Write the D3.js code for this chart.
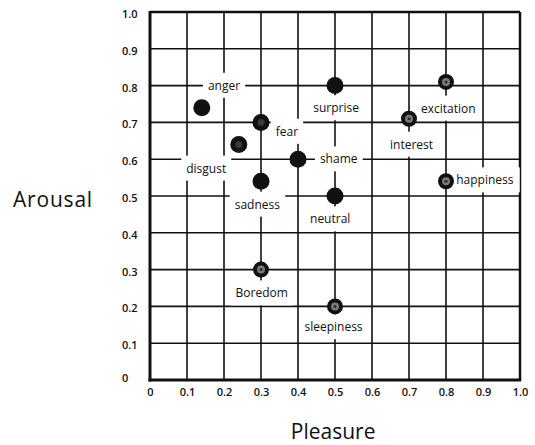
<!DOCTYPE html>
<html>
<head>
<meta charset="utf-8">
<script src="https://cdn.jsdelivr.net/npm/d3@7/dist/d3.min.js"></script>
<style>
  html, body { margin: 0; padding: 0; background: #fff; }
  svg { display: block; }
  text { font-family: "Open Sans", "Noto Sans", sans-serif; fill: #111; }
</style>
</head>
<body>
<svg id="chart" width="535" height="445"></svg>
<script>
// ---- data ----
const emotions = ["anger", "fear", "disgust", "shame", "sadness", "surprise", "neutral",
                  "excitation", "interest", "happiness", "Boredom", "sleepiness"];
const pleasure = [0.14, 0.30, 0.24, 0.40, 0.30, 0.50, 0.50, 0.80, 0.70, 0.80, 0.30, 0.50];
const arousal  = [0.74, 0.70, 0.64, 0.60, 0.54, 0.80, 0.50, 0.81, 0.71, 0.54, 0.30, 0.20];
// label anchor points (in pleasure / arousal units)
const labelPleasure = [0.20, 0.37, 0.152, 0.51, 0.29, 0.503, 0.487, 0.806, 0.707, 0.905, 0.302, 0.496];
const labelArousal  = [0.80, 0.675, 0.575, 0.60, 0.477, 0.739, 0.437, 0.738, 0.640, 0.543, 0.236, 0.144];
const xTicks = [0, 0.1, 0.2, 0.3, 0.4, 0.5, 0.6, 0.7, 0.8, 0.9, 1.0];
const yTicks = [0, 0.1, 0.2, 0.3, 0.4, 0.5, 0.6, 0.7, 0.8, 0.9, 1.0];
const xTickLabels = ["0", "0.1", "0.2", "0.3", "0.4", "0.5", "0.6", "0.7", "0.8", "0.9", "1.0"];
const yTickLabels = ["0", "0.1", "0.2", "0.3", "0.4", "0.5", "0.6", "0.7", "0.8", "0.9", "1.0"];
const xTitle = "Pleasure";
const yTitle = "Arousal";

// ---- styling helpers (not data) ----
const texturedSet = new Set(["excitation", "interest", "happiness", "Boredom", "sleepiness"]);
const faintCenterSet = new Set(["fear", "disgust"]);

const svg = d3.select("#chart");
const x = d3.scaleLinear().domain([0, 1]).range([150, 520]);
const y = d3.scaleLinear().domain([0, 1]).range([380, 12]);

// grid
const grid = svg.append("g").attr("stroke", "#111").attr("stroke-width", 1.6);
grid.selectAll("line.v").data(xTicks.slice(1, -1)).enter().append("line")
  .attr("x1", d => x(d)).attr("x2", d => x(d)).attr("y1", y(0)).attr("y2", y(1));
grid.selectAll("line.h").data(yTicks.slice(1, -1)).enter().append("line")
  .attr("y1", d => y(d)).attr("y2", d => y(d)).attr("x1", x(0)).attr("x2", x(1));

// frame
const frame = svg.append("g").attr("stroke", "#111").attr("fill", "none");
frame.append("line").attr("x1", x(0)).attr("x2", x(1)).attr("y1", y(1)).attr("y2", y(1)).attr("stroke-width", 2.5);
frame.append("line").attr("x1", x(1)).attr("x2", x(1)).attr("y1", y(1)).attr("y2", y(0)).attr("stroke-width", 2.5);
frame.append("line").attr("x1", x(0)).attr("x2", x(0)).attr("y1", y(1) - 1).attr("y2", y(0) + 1.5).attr("stroke-width", 3);
frame.append("line").attr("x1", x(0) - 1.5).attr("x2", x(1) + 1.2).attr("y1", y(0)).attr("y2", y(0)).attr("stroke-width", 3);

// axes (tick labels only)
const xAxis = d3.axisBottom(x).tickValues(xTicks).tickSize(0).tickPadding(0)
  .tickFormat((d, i) => xTickLabels[i]);
const gx = svg.append("g").attr("transform", `translate(0, ${y(0) + 12})`).call(xAxis);
gx.select(".domain").remove();
gx.selectAll("text").attr("font-size", 11).attr("font-weight", 600).attr("fill", "#111").attr("dy", "0.32em")
  .attr("font-family", "'Open Sans', sans-serif");

const yAxis = d3.axisLeft(y).tickValues(yTicks).tickSize(0).tickPadding(0)
  .tickFormat((d, i) => yTickLabels[i]);
const gy = svg.append("g").attr("transform", "translate(122, 0)").call(yAxis);
gy.select(".domain").remove();
gy.selectAll("text").attr("font-size", 11).attr("font-weight", 600).attr("fill", "#111").attr("text-anchor", "start")
  .attr("x", 0).attr("dy", (d) => d === 0 ? "0.1em" : "0.5em")
  .attr("font-family", "'Open Sans', sans-serif");

// labels with white backgrounds
const data = emotions.map((name, i) => ({
  name, px: pleasure[i], ay: arousal[i], lx: labelPleasure[i], ly: labelArousal[i]
}));
const labels = svg.append("g");
const lg = labels.selectAll("g").data(data).enter().append("g");
const rects = lg.append("rect").attr("fill", "#fff");
const texts = lg.append("text")
  .attr("x", d => x(d.lx)).attr("y", d => y(d.ly))
  .attr("text-anchor", "middle").attr("dy", "0.35em")
  .attr("font-size", 12).attr("font-weight", 500)
  .text(d => d.name);
texts.each(function (d, i) {
  const b = this.getBBox();
  const padX = d.name === "happiness" ? 6 : 5, padY = 4;
  d3.select(rects.nodes()[i])
    .attr("x", b.x - padX).attr("y", b.y - padY)
    .attr("width", b.width + 2 * padX).attr("height", b.height + 2 * padY);
});

// dots
const dots = svg.append("g");
const dg = dots.selectAll("g").data(data).enter().append("g")
  .attr("transform", d => `translate(${x(d.px)}, ${y(d.ay)})`);
dg.append("circle").attr("r", d => texturedSet.has(d.name) ? 8 : 8.5).attr("fill", "#111");
dg.filter(d => texturedSet.has(d.name)).append("circle").attr("r", 4).attr("fill", "#7a7a7a");
dg.filter(d => texturedSet.has(d.name)).append("circle").attr("r", 1.5).attr("fill", "#2a2a2a");
dg.filter(d => faintCenterSet.has(d.name)).append("circle").attr("r", 3.5).attr("fill", "#3a3a3a");

// axis titles
svg.append("text").attr("x", 13).attr("y", 207).attr("font-size", 21).attr("letter-spacing", 0.8).text(yTitle);
svg.append("text").attr("x", x(0.495)).attr("y", 439).attr("text-anchor", "middle").attr("font-size", 21).text(xTitle);
</script>
</body>
</html>
